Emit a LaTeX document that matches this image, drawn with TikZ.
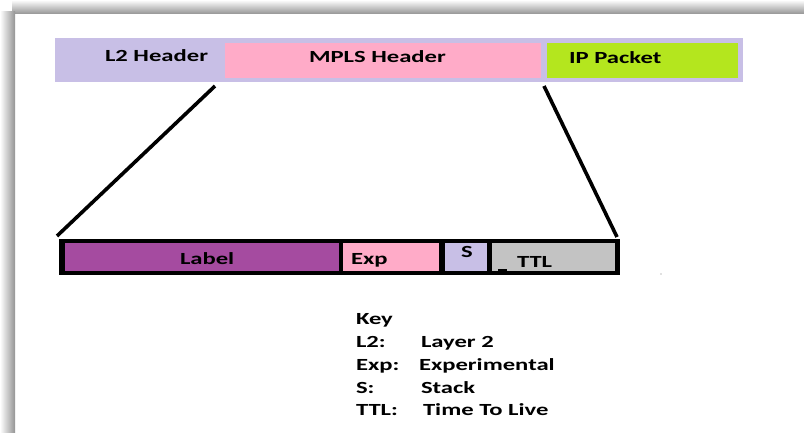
\documentclass[tikz,border=0pt]{standalone}
\usepackage{fontspec}
\setmainfont{Carlito}[FakeStretch=1.45]
\definecolor{lav}{HTML}{C8BFE6}
\definecolor{pinkfield}{HTML}{FFABC8}
\definecolor{lime}{HTML}{B4E61E}
\definecolor{purplefield}{HTML}{A54BA0}
\definecolor{ttlgray}{HTML}{C3C3C3}
\begin{document}
\begin{tikzpicture}[x=1pt,y=-1pt,
  cell/.style={anchor=north west, inner sep=0pt, outer sep=0pt, draw=none},
  txt/.style={anchor=base west, inner sep=0pt, outer sep=0pt,
              font=\fontsize{17}{20}\selectfont\bfseries},
  zoomline/.style={line width=3.6pt, black}]
  \useasboundingbox (0,0) rectangle (804,433);
  \fill[white] (0,0) rectangle (804,433);

  % page shadow along the top and left edges
  \shade[top color=white, bottom color=black!42] (12,0) rectangle (804,14);
  \shade[left color=white, right color=black!42] (0,12) rectangle (15,433);

  % packet: L2 header | MPLS header | IP packet
  \node[cell, fill=lav, minimum width=688pt, minimum height=44pt] (l2) at (55,38) {};
  \node[cell, fill=pinkfield, minimum width=316pt, minimum height=35pt] (mpls) at (225,43.5) {};
  \node[cell, fill=lime, minimum width=191pt, minimum height=35pt] (ip) at (546.5,43.5) {};
  \node[txt] (l2t) at (105,62) {L2 Header};
  \node[txt] (mplst) at (309,63) {MPLS Header};
  \node[txt] (ipt) at (569,64) {IP Packet};

  % expanded MPLS header fields
  \node[cell, fill=black, minimum width=561pt, minimum height=36pt] (hdr) at (59,239) {};
  \node[cell, fill=purplefield, minimum width=274pt, minimum height=28pt] (lbl) at (65,243) {};
  \node[cell, fill=pinkfield, minimum width=96pt, minimum height=28pt] (exp) at (343,243) {};
  \node[cell, fill=lav, minimum width=42pt, minimum height=28pt] (s) at (445,243) {};
  \node[cell, fill=ttlgray, minimum width=123pt, minimum height=28pt] (ttl) at (492,243) {};
  \node[txt] (lblt) at (180,264) {Label};
  \node[txt] (expt) at (351,264) {Exp};
  \node[txt] (st) at (461,258) {S};
  \node[txt] (ttlt) at (517,267) {TTL};
  \coordinate (tick1) at (498,270);
  \coordinate (tick2) at (507,270);
  \draw[line width=1.2pt] (tick1) -- (tick2);
  \fill[black!50] (661,274) circle (0.6);

  % zoom lines from the MPLS header to its fields
  \coordinate (zl) at (215,86);
  \coordinate (zr) at (544,86);
  \coordinate (el) at (57,236);
  \coordinate (er) at (617,237);
  \draw[zoomline] (zl) -- (el);
  \draw[zoomline] (zr) -- (er);

  % key
  \node[txt] (key) at (356,324) {Key};
  \node[txt] (k1) at (356,347) {L2:};
  \node[txt] (v1) at (421,347) {Layer 2};
  \node[txt] (k2) at (356,370) {Exp:};
  \node[txt] (v2) at (419,370) {Experimental};
  \node[txt] (k3) at (356,393) {S:};
  \node[txt] (v3) at (421,393) {Stack};
  \node[txt] (k4) at (356,415) {TTL:};
  \node[txt] (v4) at (423,415) {Time To Live};
\end{tikzpicture}
\end{document}
